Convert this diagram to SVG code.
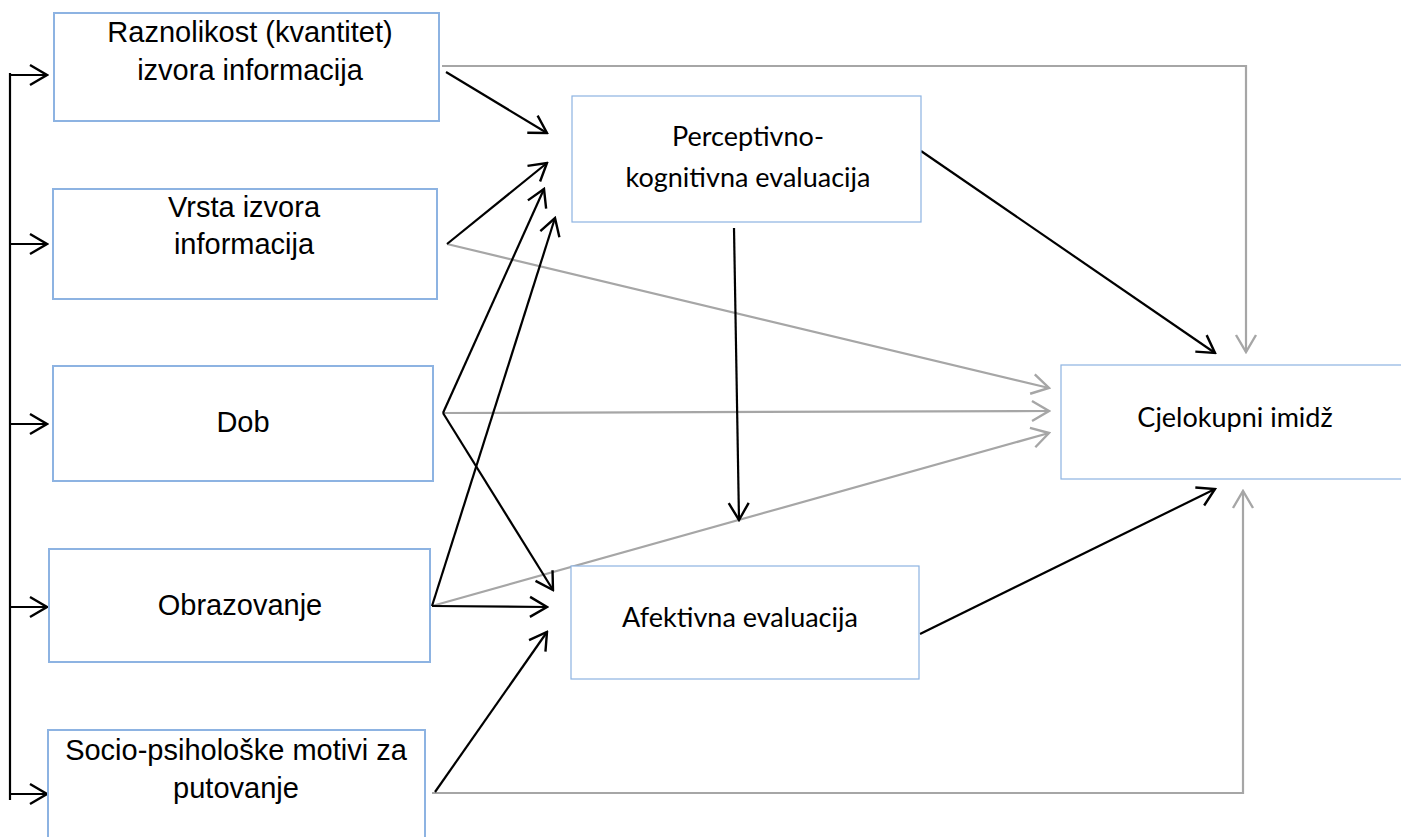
<svg xmlns="http://www.w3.org/2000/svg" width="1401" height="837" viewBox="0 0 1401 837">
<style>
.box{fill:#fff;stroke:#8DB3E2;stroke-width:2}
.box2{fill:#fff;stroke:#8DB3E2;stroke-width:1.2}
.t{font-family:"Liberation Sans",Arial,sans-serif;font-size:29px;fill:#000;text-anchor:middle}
.c{font-family:Lato,"Noto Sans",sans-serif;font-size:27px;fill:#000;text-anchor:middle}
.k{fill:none;stroke:#000;stroke-width:2.2;marker-end:url(#ak)}
.g{fill:none;stroke:#A6A6A6;stroke-width:2.2;marker-end:url(#ag)}
.gn{fill:none;stroke:#A6A6A6;stroke-width:2.2}
.kn{fill:none;stroke:#000;stroke-width:2.2}
</style>
<defs>
<marker id="ak" markerUnits="userSpaceOnUse" viewBox="-20 -12 22 24" markerWidth="22" markerHeight="24" refX="0" refY="0" orient="auto">
<path d="M-17,-10 L0,0 L-17,10" fill="none" stroke="#000" stroke-width="2.4"/>
</marker>
<marker id="ag" markerUnits="userSpaceOnUse" viewBox="-20 -12 22 24" markerWidth="22" markerHeight="24" refX="0" refY="0" orient="auto">
<path d="M-17,-10 L0,0 L-17,10" fill="none" stroke="#A6A6A6" stroke-width="2.4"/>
</marker>
</defs>
<g id="connectors">
<line class="kn" x1="10" y1="73" x2="10" y2="800"/>
<line class="k" x1="10" y1="75" x2="47" y2="75"/>
<line class="k" x1="10" y1="244" x2="47" y2="244"/>
<line class="k" x1="10" y1="424" x2="47" y2="424"/>
<line class="k" x1="10" y1="607" x2="47" y2="607"/>
<line class="k" x1="10" y1="794" x2="47" y2="794"/>
<polyline class="g" points="442,66 1246,66 1246,352"/>
<line class="g" x1="447" y1="244" x2="1049" y2="388"/>
<line class="g" x1="443" y1="413" x2="1049" y2="411"/>
<line class="g" x1="432" y1="606" x2="1049" y2="433"/>
<polyline class="g" points="432,793 1243,793 1243,491"/>
<line class="k" x1="446" y1="72" x2="547" y2="133"/>
<line class="k" x1="447" y1="244" x2="547" y2="163"/>
<line class="k" x1="443" y1="413" x2="544" y2="189"/>
<line class="k" x1="443" y1="413" x2="553" y2="590"/>
<line class="k" x1="432" y1="606" x2="555" y2="218"/>
<line class="k" x1="432" y1="606" x2="547" y2="607"/>
<line class="k" x1="435" y1="792" x2="547" y2="632"/>
<line class="k" x1="921" y1="151" x2="1215" y2="353"/>
<line class="k" x1="734" y1="228" x2="739" y2="520"/>
<line class="k" x1="920" y1="634" x2="1215" y2="489"/>
</g>
<g id="n1"><rect class="box" x="54" y="13" width="385" height="108"/>
<text class="t" x="250" y="42">Raznolikost (kvantitet)</text>
<text class="t" x="250" y="80">izvora informacija</text></g>
<g id="n2"><rect class="box" x="53" y="189" width="384" height="110"/>
<text class="t" x="244" y="217">Vrsta izvora</text>
<text class="t" x="244" y="254">informacija</text></g>
<g id="n3"><rect class="box" x="53" y="366" width="380" height="115"/>
<text class="t" x="243" y="432">Dob</text></g>
<g id="n4"><rect class="box" x="49" y="549" width="381" height="113"/>
<text class="t" x="240" y="615">Obrazovanje</text></g>
<g id="n5"><rect class="box" x="48" y="730" width="377" height="120"/>
<text class="t" x="236" y="760">Socio-psihološke motivi za</text>
<text class="t" x="236" y="798">putovanje</text></g>
<g id="n6"><rect class="box2" x="572" y="96" width="349" height="126"/>
<text class="c" x="748" y="146">Perceptivno-</text>
<text class="c" x="748" y="187">kognitivna evaluacija</text></g>
<g id="n7"><rect class="box2" x="571" y="566" width="348" height="113"/>
<text class="c" x="740" y="627">Afektivna evaluacija</text></g>
<g id="n8"><rect class="box2" x="1061" y="365" width="350" height="114"/>
<text class="c" x="1235" y="427">Cjelokupni imidž</text></g>
</svg>
